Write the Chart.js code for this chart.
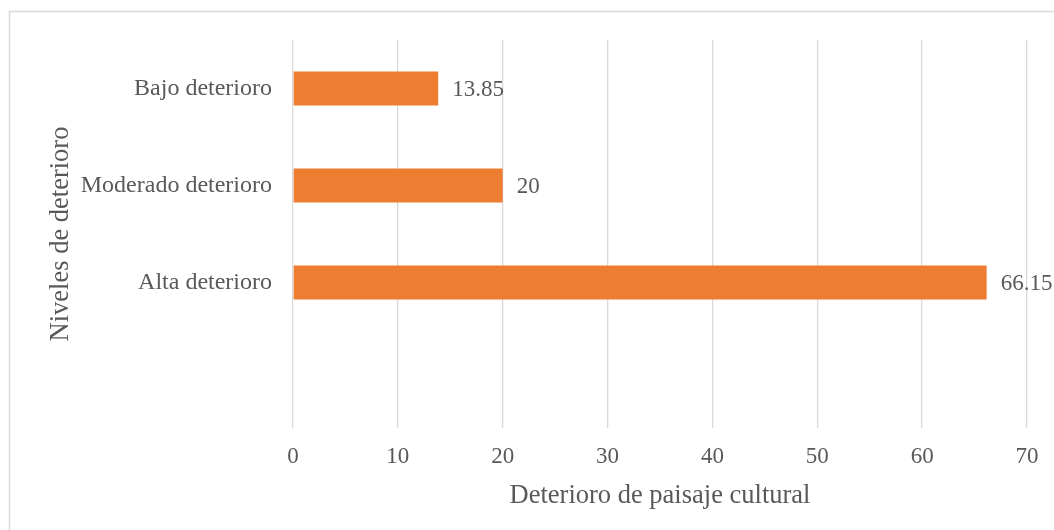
<!DOCTYPE html>
<html>
<head>
<meta charset="utf-8">
<script src="https://cdn.jsdelivr.net/npm/chart.js@4"></script>
<style>
  html, body { margin: 0; padding: 0; background: #ffffff; }
  #wrap { position: relative; width: 1054px; height: 530px; }
</style>
</head>
<body>
<div id="wrap"><canvas id="c" width="1054" height="530"></canvas></div>
<script>
const categories = ['Bajo deterioro', 'Moderado deterioro', 'Alta deterioro', ''];
const values = [13.85, 20, 66.15, null];
const valueLabels = ['13.85', '20', '66.15', ''];
const xTicks = [0, 10, 20, 30, 40, 50, 60, 70];
const xTitle = 'Deterioro de paisaje cultural';
const yTitle = 'Niveles de deterioro';

const FONT = "'Liberation Serif', 'Times New Roman', serif";
const TEXT = '#595959';
const GRID = '#d9d9d9';

const frame = {
  id: 'frame',
  beforeDraw(chart) {
    const ctx = chart.ctx;
    ctx.save();
    ctx.strokeStyle = GRID;
    ctx.lineWidth = 1.5;
    ctx.strokeRect(9.5, 11.5, 1100, 600);
    ctx.restore();
  }
};

const valueLabelPlugin = {
  id: 'valueLabels',
  afterDatasetsDraw(chart) {
    const ctx = chart.ctx;
    const meta = chart.getDatasetMeta(0);
    ctx.save();
    ctx.font = '23px ' + FONT;
    ctx.fillStyle = TEXT;
    ctx.textAlign = 'left';
    ctx.textBaseline = 'middle';
    meta.data.forEach((el, i) => {
      if (values[i] === null) return;
      ctx.fillText(valueLabels[i], el.x + 14, el.y + 1);
    });
    ctx.restore();
  }
};

new Chart(document.getElementById('c'), {
  type: 'bar',
  data: {
    labels: categories,
    datasets: [{
      data: values,
      backgroundColor: '#ED7D31',
      borderWidth: 0,
      categoryPercentage: 1.0,
      barPercentage: 0.35
    }]
  },
  options: {
    indexAxis: 'y',
    responsive: false,
    animation: false,
    devicePixelRatio: 1,
    layout: { padding: { top: 40, right: 27, left: 0, bottom: 0 } },
    plugins: { legend: { display: false }, tooltip: { enabled: false } },
    scales: {
      x: {
        type: 'linear',
        min: 0,
        max: 70,
        afterBuildTicks(scale) { scale.ticks = xTicks.map(v => ({ value: v })); },
        afterFit(scale) { scale.height = 102; },
        grid: { color: GRID, lineWidth: 1.3, drawTicks: false },
        border: { display: false },
        ticks: { color: TEXT, font: { family: FONT, size: 23 }, padding: 15 },
        title: { display: true, text: xTitle, color: TEXT, font: { family: FONT, size: 26.5 }, padding: { top: 0, bottom: 18 } }
      },
      y: {
        type: 'category',
        afterFit(scale) { scale.width = 293; },
        grid: { display: false, drawTicks: false },
        border: { display: false },
        ticks: { color: TEXT, font: { family: FONT, size: 24 }, padding: 21 },
        title: { display: true, text: yTitle, color: TEXT, font: { family: FONT, size: 26.5 }, padding: { top: 45, bottom: 0 } }
      }
    }
  },
  plugins: [frame, valueLabelPlugin]
});
</script>
</body>
</html>
